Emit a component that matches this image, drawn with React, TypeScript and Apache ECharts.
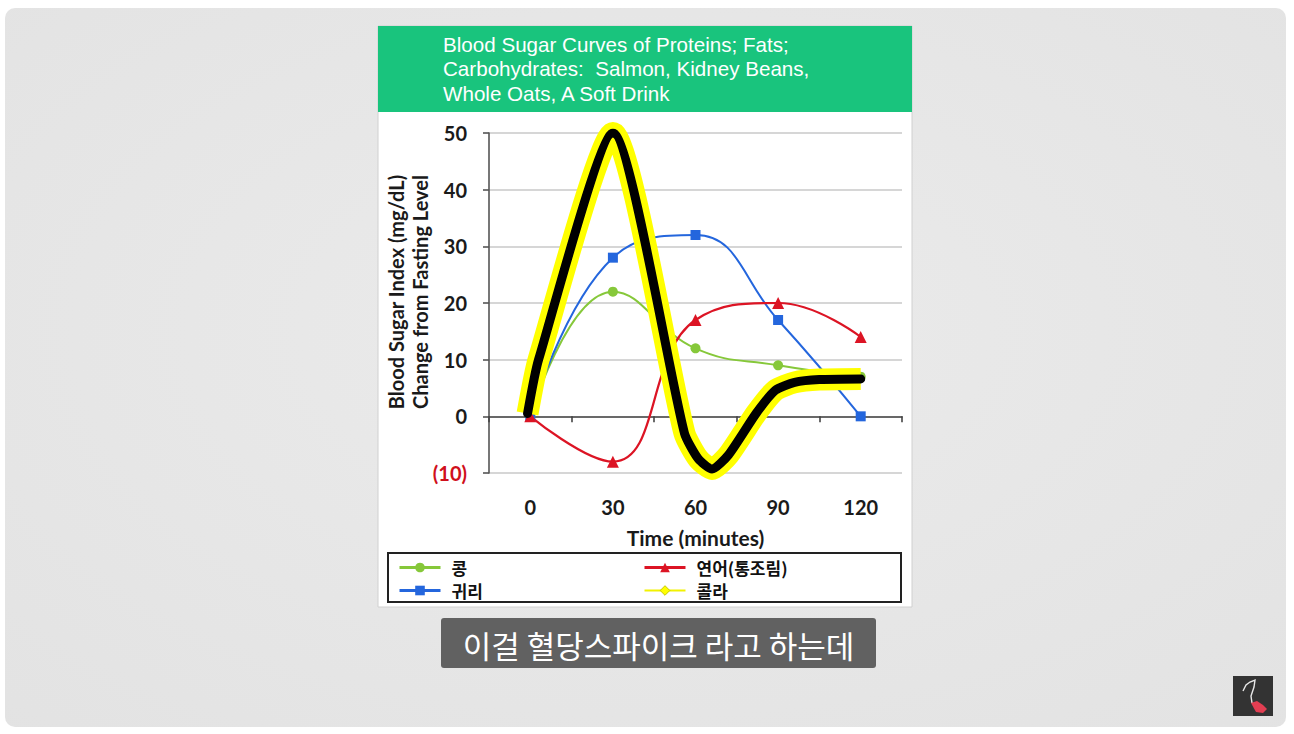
import React, { useEffect, useRef } from "react";
import * as echarts from "echarts";

// ---- data ----
const categories = ["0", "30", "60", "90", "120"];
const beans = [0, 22, 12, 9, 7]; // 콩
const oats = [0, 28, 32, 17, 0]; // 귀리
const salmon = [0, -8, 17, 20, 14]; // 연어(통조림)
// hand-drawn cola spike highlight (minutes, mg/dL)
const colaMinutes = [-1, 3, 30, 56, 61, 66, 72, 82, 89, 96, 105, 120];
const colaValues = [0.5, 10, 50, -3, -7.5, -9.3, -6.8, 0.5, 4.6, 6, 6.5, 6.6];
const yMin = -10;
const yMax = 50;
const yStep = 10;
const titleLines = [
  "Blood Sugar Curves of Proteins; Fats;",
  "Carbohydrates:  Salmon, Kidney Beans,",
  "Whole Oats, A Soft Drink",
];
const yNameLines = ["Blood Sugar Index (mg/dL)", "Change from Fasting Level"];
const xName = "Time (minutes)";
const seriesNames = ["콩", "귀리", "연어(통조림)", "콜라"];
const subtitle = "이걸 혈당스파이크 라고 하는데";

const GREEN = "#86c83a";
const BLUE = "#2466dd";
const RED = "#dc1424";
const YELLOW = "#ffff00";

export default function App() {
  const ref = useRef<HTMLDivElement>(null);
  useEffect(() => {
    if (!ref.current) return;
    const chart = echarts.init(ref.current, null, { renderer: "svg" });
    const colaPoints = colaMinutes.map((m, i) => [m, colaValues[i]]);
    const boldFont = "Lato";
    const legendText = {
      fontSize: 17,
      lineHeight: 17,
      fontWeight: "bold",
      fontFamily: "Noto Sans CJK KR",
      color: "#111",
      padding: [0, 0, 0, 6],
    };
    const option: any = {
      animation: false,
      backgroundColor: "#ffffff",
      grid: { left: 489, top: 133, width: 413, height: 340, containLabel: false, outerBoundsMode: "none" },
      xAxis: [
        {
          type: "category",
          data: categories,
          boundaryGap: true,
          axisLine: { show: true, onZero: true, lineStyle: { color: "#444", width: 1.6 } },
          axisTick: { show: true, length: 6, lineStyle: { color: "#444", width: 1.6 } },
          axisLabel: { margin: 24, fontSize: 20, fontWeight: "bold", fontFamily: boldFont, color: "#1a1a1a" },
          splitLine: { show: false },
          name: xName,
          nameLocation: "middle",
          nameGap: 54,
          nameTextStyle: { fontSize: 21, fontWeight: "bold", fontFamily: boldFont, color: "#1a1a1a" },
        },
        {
          type: "value",
          min: -15,
          max: 135,
          show: false,
          axisLine: { onZero: false },
          splitLine: { show: false },
        },
      ],
      yAxis: {
        type: "value",
        min: yMin,
        max: yMax,
        interval: yStep,
        axisLine: { show: true, onZero: false, lineStyle: { color: "#555", width: 1.6 } },
        axisTick: { show: true, length: 6, lineStyle: { color: "#555", width: 1.6 } },
        axisLabel: {
          margin: 22,
          fontSize: 20,
          fontWeight: "bold",
          fontFamily: boldFont,
          formatter: (v: number) => (v < 0 ? `(${-v})` : String(v)),
          color: (v: any) => (Number(v) < 0 ? "#d0101c" : "#1a1a1a"),
        },
        splitLine: { show: true, lineStyle: { color: "#c9c9c9", width: 1.6 } },
      },
      legend: [
        {
          data: [
            { name: seriesNames[0], lineStyle: { width: 3 } },
            { name: seriesNames[1], lineStyle: { width: 3 } },
          ],
          orient: "vertical",
          left: 398,
          top: 559,
          padding: 0,
          itemWidth: 41,
          itemHeight: 12,
          itemGap: 6,
          selectedMode: false,
          textStyle: legendText,
        },
        {
          data: [
            { name: seriesNames[2], lineStyle: { width: 3 } },
            { name: seriesNames[3], lineStyle: { width: 2, color: "#f2f200" }, itemStyle: { color: YELLOW, borderColor: "#c8c800", borderWidth: 1 } },
          ],
          orient: "vertical",
          left: 643,
          top: 559,
          padding: 0,
          itemWidth: 41,
          itemHeight: 12,
          itemGap: 6,
          selectedMode: false,
          textStyle: legendText,
        },
      ],
      series: [
        {
          name: seriesNames[0],
          type: "line",
          xAxisIndex: 0,
          data: beans,
          smooth: 0.45,
          symbol: "circle",
          symbolSize: 10,
          lineStyle: { color: GREEN, width: 2 },
          itemStyle: { color: GREEN },
          z: 3,
        },
        {
          name: seriesNames[1],
          type: "line",
          xAxisIndex: 0,
          data: oats,
          smooth: 0.45,
          symbol: "rect",
          symbolSize: 10,
          lineStyle: { color: BLUE, width: 2 },
          itemStyle: { color: BLUE },
          z: 3,
        },
        {
          name: seriesNames[2],
          type: "line",
          xAxisIndex: 0,
          data: salmon,
          smooth: 0.45,
          symbol: "triangle",
          symbolSize: 12,
          lineStyle: { color: RED, width: 2.2 },
          itemStyle: { color: RED },
          z: 3,
        },
        {
          name: seriesNames[3],
          type: "line",
          xAxisIndex: 1,
          data: colaPoints,
          smooth: 0.2,
          symbol: "diamond",
          showSymbol: false,
          lineStyle: { color: YELLOW, width: 22, cap: "butt", join: "round" },
          itemStyle: { color: YELLOW },
          z: 5,
        },
        {
          name: "spike",
          type: "line",
          xAxisIndex: 1,
          data: colaPoints,
          smooth: 0.2,
          showSymbol: false,
          symbol: "none",
          lineStyle: { color: "#000000", width: 9, cap: "round", join: "round" },
          z: 6,
        },
      ],
      graphic: [
        {
          type: "rect",
          z: -30,
          shape: { x: 5, y: 8, width: 1281, height: 719, r: 10 },
          style: {
            fill: new echarts.graphic.RadialGradient(0.5, 0.45, 0.8, [
              { offset: 0, color: "#ebebeb" },
              { offset: 1, color: "#e2e2e2" },
            ]),
          },
        },
        {
          type: "rect",
          z: -20,
          shape: { x: 378, y: 26, width: 534, height: 581 },
          style: { fill: "#ffffff", stroke: "#d0d0d0", lineWidth: 1 },
        },
        {
          type: "rect",
          z: -19,
          shape: { x: 378, y: 26, width: 534, height: 86 },
          style: { fill: "#19c47d" },
        },
        {
          type: "text",
          z: -18,
          x: 443,
          y: 32,
          style: {
            text: titleLines.join("\n"),
            fontSize: 20.6,
            fontFamily: "Liberation Sans",
            fill: "#ffffff",
            lineHeight: 24.5,
            verticalAlign: "top",
          },
        },
        {
          type: "text",
          z: -18,
          x: 408,
          y: 292,
          rotation: Math.PI / 2,
          style: {
            text: yNameLines.join("\n"),
            fontSize: 20,
            fontWeight: "bold",
            fontFamily: boldFont,
            fill: "#1a1a1a",
            lineHeight: 24,
            align: "center",
            verticalAlign: "middle",
          },
        },
        {
          type: "rect",
          z: -18,
          shape: { x: 388, y: 553, width: 513, height: 49 },
          style: { fill: "#ffffff", stroke: "#222222", lineWidth: 2 },
        },
        {
          type: "rect",
          z: 10,
          shape: { x: 441, y: 618, width: 435, height: 50, r: 3 },
          style: { fill: "rgba(82,82,82,0.9)" },
        },
        {
          type: "text",
          z: 11,
          x: 658.5,
          y: 644,
          style: {
            text: subtitle,
            fontSize: 31,
            fontFamily: "Noto Sans CJK KR",
            fill: "#ffffff",
            align: "center",
            verticalAlign: "middle",
          },
        },
        {
          type: "rect",
          z: 10,
          shape: { x: 1233, y: 676, width: 40, height: 40 },
          style: { fill: "#333333" },
        },
        {
          type: "polyline",
          z: 11,
          shape: {
            points: [
              [1243, 691],
              [1246, 685],
              [1250, 682],
              [1255, 680],
              [1254, 687],
              [1251, 696],
              [1252, 703],
            ],
          },
          style: { stroke: "#e8e8e8", lineWidth: 1.4, fill: "none" },
        },
        {
          type: "polygon",
          z: 11,
          shape: {
            points: [
              [1251, 703],
              [1257, 701],
              [1263, 705],
              [1267, 709],
              [1263, 713],
              [1256, 712],
            ],
          },
          style: { fill: "#e23e52" },
        },
      ],
    };
    chart.setOption(option);
    return () => chart.dispose();
  }, []);
  return <div ref={ref} style={{ position: "absolute", left: 0, top: 0, width: 1294, height: 734 }} />;
}
